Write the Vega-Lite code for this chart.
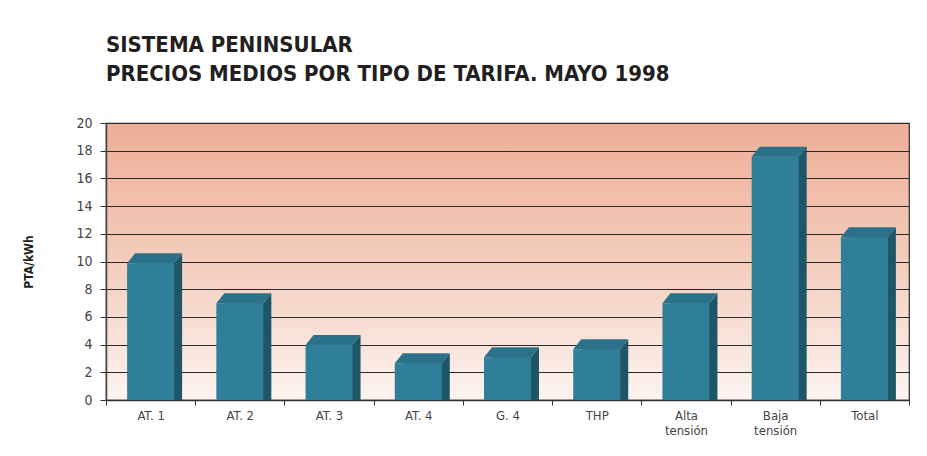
{
  "$schema": "https://vega.github.io/schema/vega-lite/v6.json",
  "width": 803,
  "height": 277,
  "autosize": {"type": "none"},
  "padding": {"left": 106, "top": 123, "right": 18, "bottom": 56},
  "background": "white",
  "title": {
    "text": ["SISTEMA PENINSULAR", "PRECIOS MEDIOS POR TIPO DE TARIFA. MAYO 1998"],
    "anchor": "start",
    "frame": "group",
    "font": "DejaVu Sans Condensed, DejaVu Sans, sans-serif",
    "fontSize": 22,
    "fontWeight": "bold",
    "color": "#231f20",
    "lineHeight": 29,
    "offset": 30
  },
  "config": {
    "view": {
      "stroke": "#2a2a2a",
      "strokeWidth": 1.2,
      "fill": {
        "gradient": "linear",
        "x1": 0, "y1": 0, "x2": 0, "y2": 1,
        "stops": [
          {"offset": 0, "color": "#edae97"},
          {"offset": 0.5, "color": "#f4cdbd"},
          {"offset": 1, "color": "#fcf4f0"}
        ]
      }
    },
    "font": "DejaVu Sans Condensed, DejaVu Sans, sans-serif"
  },
  "data": {
    "values": [
      {"tarifa": "AT. 1", "precio": 9.87},
      {"tarifa": "AT. 2", "precio": 6.98},
      {"tarifa": "AT. 3", "precio": 3.98},
      {"tarifa": "AT. 4", "precio": 2.65},
      {"tarifa": "G. 4", "precio": 3.08},
      {"tarifa": "THP", "precio": 3.66},
      {"tarifa": "Alta tensión", "precio": 6.98},
      {"tarifa": "Baja tensión", "precio": 17.57},
      {"tarifa": "Total", "precio": 11.75}
    ]
  },
  "encoding": {
    "x": {
      "field": "tarifa",
      "type": "nominal",
      "sort": null,
      "scale": {"paddingInner": 0, "paddingOuter": 0},
      "axis": {
        "title": null,
        "labelAngle": 0,
        "tickBand": "extent",
        "tickSize": 5,
        "tickColor": "#333",
        "domainColor": "#333",
        "domainWidth": 1.5,
        "labelFontSize": 13,
        "labelColor": "#444",
        "labelPadding": 4,
        "labelLineHeight": 15,
        "labelExpr": "indexof(datum.label, 'tensión') >= 0 ? split(datum.label, ' ') : datum.label"
      }
    },
    "y": {
      "field": "precio",
      "type": "quantitative",
      "scale": {"domain": [0, 20], "nice": false},
      "axis": {
        "title": "PTA/kWh",
        "titleFontSize": 12,
        "titleFontWeight": "bold",
        "titleColor": "#231f20",
        "titlePadding": 40,
        "values": [0, 2, 4, 6, 8, 10, 12, 14, 16, 18, 20],
        "tickSize": 6,
        "tickColor": "#333",
        "domainColor": "#444",
        "domainWidth": 1.5,
        "labelFontSize": 14,
        "labelColor": "#444",
        "labelPadding": 8,
        "grid": true,
        "gridColor": "#2a2a2a",
        "gridWidth": 1,
        "gridOpacity": 1
      }
    }
  },
  "layer": [
    {
      "mark": {"type": "bar", "width": 47, "xOffset": 8, "color": "#1e5668"}
    },
    {
      "mark": {"type": "bar", "width": 47, "color": "#2f7f9a"}
    },
    {
      "mark": {
        "type": "point",
        "shape": "M 0.82 0.02 L 1.125 -0.3571 L 1.125 0.02 Z",
        "size": 3136,
        "filled": true,
        "opacity": 1,
        "strokeWidth": 0,
        "color": "#1e5668"
      }
    },
    {
      "mark": {
        "type": "point",
        "shape": "M -0.8393 0 L 0.8393 0 L 1.125 -0.3571 L -0.5536 -0.3571 Z",
        "size": 3136,
        "filled": true,
        "opacity": 1,
        "strokeWidth": 0,
        "color": "#2b7189"
      }
    }
  ]
}
